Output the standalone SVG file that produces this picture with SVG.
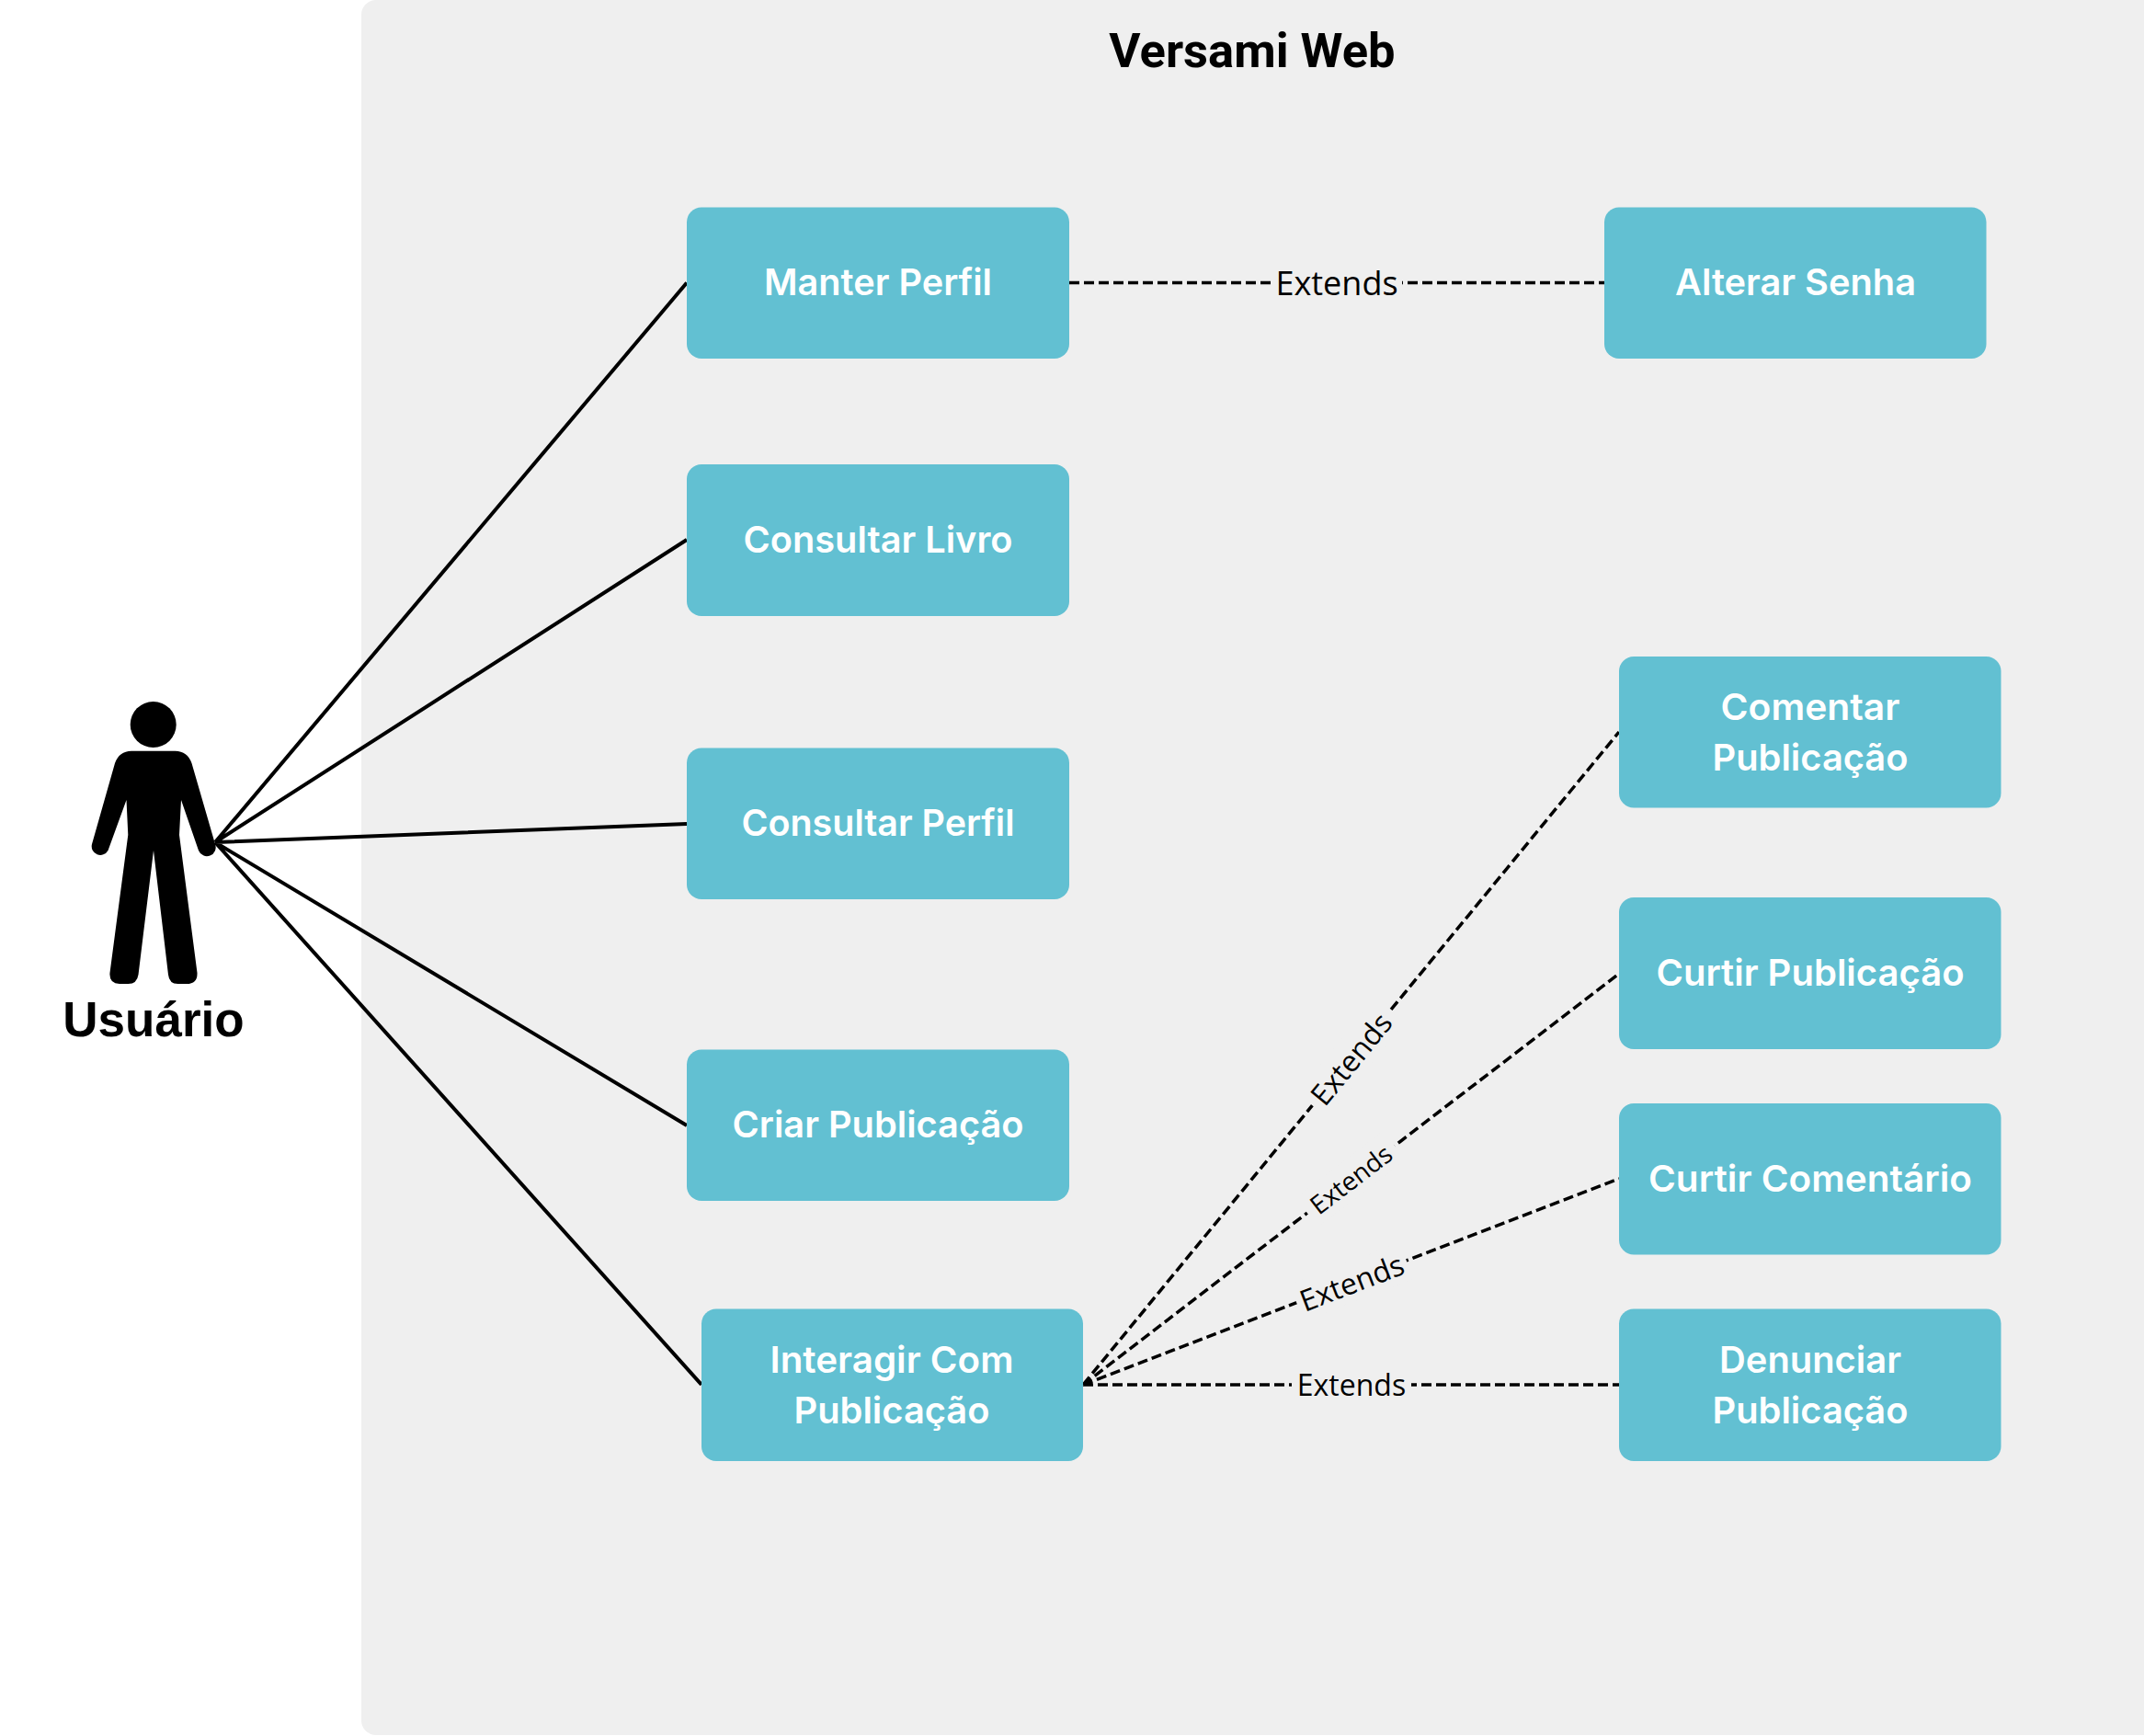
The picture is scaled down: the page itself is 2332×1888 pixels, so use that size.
<svg xmlns="http://www.w3.org/2000/svg" width="2332" height="1888" viewBox="0 0 2332 1888">
<style>
.uc{fill:#62c0d2}
.t{font-family:"Inter","Liberation Sans",sans-serif;font-weight:600;font-size:40px;fill:#fff;text-anchor:middle}
.solid{stroke:#000;stroke-width:4;fill:none}
.dash{stroke:#000;stroke-width:3.5;fill:none;stroke-dasharray:11 5}
.lb{fill:#efefef}
.x{font-family:"Open Sans","Liberation Sans",sans-serif;fill:#000;text-anchor:middle;dominant-baseline:central}
</style>
<rect width="2332" height="1888" fill="#fff"/>
<rect id="panel" x="393" y="0" width="1960" height="1887" rx="16" fill="#efefef"/>
<text id="title" x="1362" y="73" font-family="Roboto,'Liberation Sans',sans-serif" font-weight="700" font-size="52.500" text-anchor="middle" fill="#000">Versami Web</text>
<g id="connectors">
<path class="solid" d="M234 916L747 307.500M234 916L747 587M234 916L747 896M234 916L763 1506M234 916L747 1224"/>
<path class="dash" d="M1163 307.500H1745M1178 1506L1761 796M1178 1506L1761 1059M1178 1506L1761 1282M1178 1506H1761"/>
<rect class="lb" x="1382" y="285" width="143" height="44"/>
<text class="x" x="1454" y="307" font-size="36">Extends</text>
<g transform="translate(1469 1151) rotate(-50.6)"><rect class="lb" x="-66" y="-21" width="132" height="42"/><text class="x" font-size="32">Extends</text></g>
<g transform="translate(1469 1282) rotate(-37.5)"><rect class="lb" x="-60" y="-20" width="120" height="40"/><text class="x" font-size="28">Extends</text></g>
<g transform="translate(1470 1394) rotate(-21)"><rect class="lb" x="-64" y="-21" width="128" height="42"/><text class="x" font-size="32">Extends</text></g>
<rect class="lb" x="1405" y="1484" width="130" height="44"/>
<text class="x" x="1470" y="1505" font-size="32">Extends</text>
</g>
<g id="actor">
<circle cx="166.700" cy="788" r="25"/>
<path d="M143 816.700H190.500Q204 817 208.500 830L234 918A9.500 9.500 0 0 1 216 925L197 870L195 908L214.500 1058Q215 1070 203 1070H193.500Q184 1070 183 1060L167 925L150.500 1060Q149 1070 139.500 1070H130Q118.500 1070 119.500 1058L139.300 908L137.500 870L117.500 925A9.500 9.500 0 0 1 100 918L125 830Q129.500 817 143 816.700Z"/>
<text x="167" y="1127" font-family="'Liberation Sans',Arial,sans-serif" font-weight="700" font-size="53" text-anchor="middle">Usuário</text>
</g>
<g id="manter-perfil"><rect class="uc" x="747" y="225.500" width="416" height="164.500" rx="16"/><text class="t" x="955" y="321" textLength="248" lengthAdjust="spacingAndGlyphs">Manter Perfil</text></g>
<g id="consultar-livro"><rect class="uc" x="747" y="505" width="416" height="165" rx="16"/><text class="t" x="955" y="601" textLength="293" lengthAdjust="spacingAndGlyphs">Consultar Livro</text></g>
<g id="consultar-perfil"><rect class="uc" x="747" y="813.500" width="416" height="164.500" rx="16"/><text class="t" x="955" y="909" textLength="297" lengthAdjust="spacingAndGlyphs">Consultar Perfil</text></g>
<g id="criar-publicacao"><rect class="uc" x="747" y="1141.500" width="416" height="164.500" rx="16"/><text class="t" x="955" y="1237" textLength="317" lengthAdjust="spacingAndGlyphs">Criar Publicação</text></g>
<g id="interagir"><rect class="uc" x="763" y="1423.500" width="415" height="165.500" rx="16"/><text class="t" x="970" y="1493" textLength="265" lengthAdjust="spacingAndGlyphs">Interagir Com</text><text class="t" x="970" y="1548" textLength="213" lengthAdjust="spacingAndGlyphs">Publicação</text></g>
<g id="alterar-senha"><rect class="uc" x="1745" y="225.500" width="415.500" height="164.500" rx="16"/><text class="t" x="1953" y="321" textLength="262" lengthAdjust="spacingAndGlyphs">Alterar Senha</text></g>
<g id="comentar"><rect class="uc" x="1761" y="714" width="415.500" height="164.500" rx="16"/><text class="t" x="1969" y="783" textLength="195" lengthAdjust="spacingAndGlyphs">Comentar</text><text class="t" x="1969" y="838" textLength="213" lengthAdjust="spacingAndGlyphs">Publicação</text></g>
<g id="curtir-publicacao"><rect class="uc" x="1761" y="976" width="415.500" height="165" rx="16"/><text class="t" x="1969" y="1072" textLength="335" lengthAdjust="spacingAndGlyphs">Curtir Publicação</text></g>
<g id="curtir-comentario"><rect class="uc" x="1761" y="1200" width="415.500" height="164.500" rx="16"/><text class="t" x="1969" y="1296" textLength="352" lengthAdjust="spacingAndGlyphs">Curtir Comentário</text></g>
<g id="denunciar"><rect class="uc" x="1761" y="1423.500" width="415.500" height="165.500" rx="16"/><text class="t" x="1969" y="1493" textLength="198" lengthAdjust="spacingAndGlyphs">Denunciar</text><text class="t" x="1969" y="1548" textLength="213" lengthAdjust="spacingAndGlyphs">Publicação</text></g>
</svg>
